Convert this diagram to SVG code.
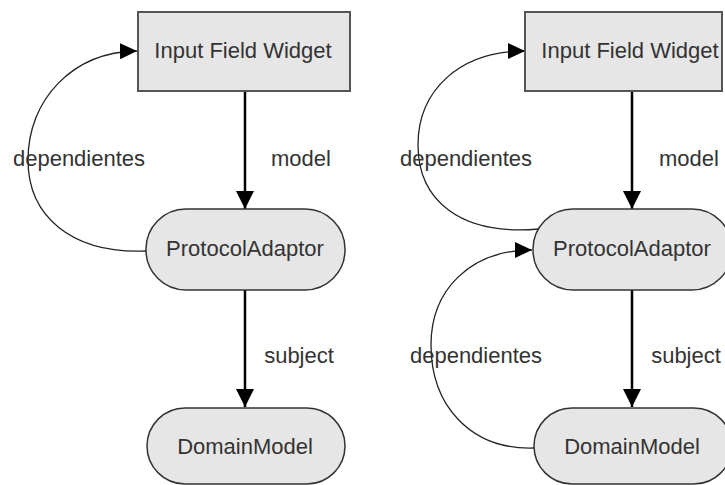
<svg xmlns="http://www.w3.org/2000/svg" width="725" height="485" viewBox="0 0 725 485">
<defs>
<style>
.box{fill:#e6e6e6;stroke:#555;stroke-width:2}
.pill{fill:#e6e6e6;stroke:#333;stroke-width:1.5}
.lbl{font-family:"Liberation Sans",Arial,sans-serif;font-size:22px;fill:#333}
.mid{text-anchor:middle}
.edge{fill:none;stroke:#000;stroke-width:2.5}
.dep{fill:none;stroke:#222;stroke-width:1.3}
</style>
<marker id="ah" viewBox="0 0 18 18" refX="18" refY="9" markerUnits="userSpaceOnUse" markerWidth="18" markerHeight="18" orient="auto">
<path d="M0,0 L18,9 L0,18 Z" fill="#000"/>
</marker>
<marker id="ah2" viewBox="0 0 17 16" refX="17" refY="8" markerUnits="userSpaceOnUse" markerWidth="17" markerHeight="16" orient="auto">
<path d="M0,0 L17,8 L0,16 Z" fill="#000"/>
</marker>
</defs>
<rect width="725" height="485" fill="#fff"/>
<g id="connectors">
<path class="edge" d="M245,91 V209" marker-end="url(#ah)"/>
<path class="edge" d="M245,290 V407" marker-end="url(#ah)"/>
<path class="dep" d="M146,251 C70,254 28,215 28,160 C28,100 72,52 137,51" marker-end="url(#ah2)"/>
<path class="edge" d="M632,91 V209" marker-end="url(#ah)"/>
<path class="edge" d="M632,290 V407" marker-end="url(#ah)"/>
<path class="dep" d="M539,229 C460,236 418,200 418,145 C418,90 460,51 525,51" marker-end="url(#ah2)"/>
<path class="dep" d="M534,448 C470,450 431,405 431,345 C431,290 470,250 532,250" marker-end="url(#ah2)"/>
</g>
<g id="labels">
<text class="lbl" x="301" y="166" text-anchor="middle">model</text>
<text class="lbl" x="299" y="363" text-anchor="middle">subject</text>
<text class="lbl" x="79" y="166" text-anchor="middle">dependientes</text>
<text class="lbl" x="689" y="166" text-anchor="middle">model</text>
<text class="lbl" x="686" y="363" text-anchor="middle">subject</text>
<text class="lbl" x="466" y="166" text-anchor="middle">dependientes</text>
<text class="lbl" x="476" y="363" text-anchor="middle">dependientes</text>
</g>
<g id="ifw-left">
<rect class="box" x="138" y="12" width="212" height="79"/>
<text class="lbl mid" x="243" y="58">Input Field Widget</text>
</g>
<g id="pa-left">
<rect class="pill" x="146" y="209" width="199" height="81" rx="40" ry="40"/>
<text class="lbl mid" x="245" y="256">ProtocolAdaptor</text>
</g>
<g id="dm-left">
<rect class="pill" x="147" y="408" width="198" height="76" rx="38" ry="38"/>
<text class="lbl mid" x="245" y="454">DomainModel</text>
</g>
<g id="ifw-right">
<rect class="box" x="525" y="12" width="197" height="79"/>
<text class="lbl mid" x="630" y="58">Input Field Widget</text>
</g>
<g id="pa-right">
<rect class="pill" x="533" y="209" width="199" height="81" rx="40" ry="40"/>
<text class="lbl mid" x="632" y="256">ProtocolAdaptor</text>
</g>
<g id="dm-right">
<rect class="pill" x="534" y="408" width="198" height="76" rx="38" ry="38"/>
<text class="lbl mid" x="632" y="454">DomainModel</text>
</g>
</svg>
